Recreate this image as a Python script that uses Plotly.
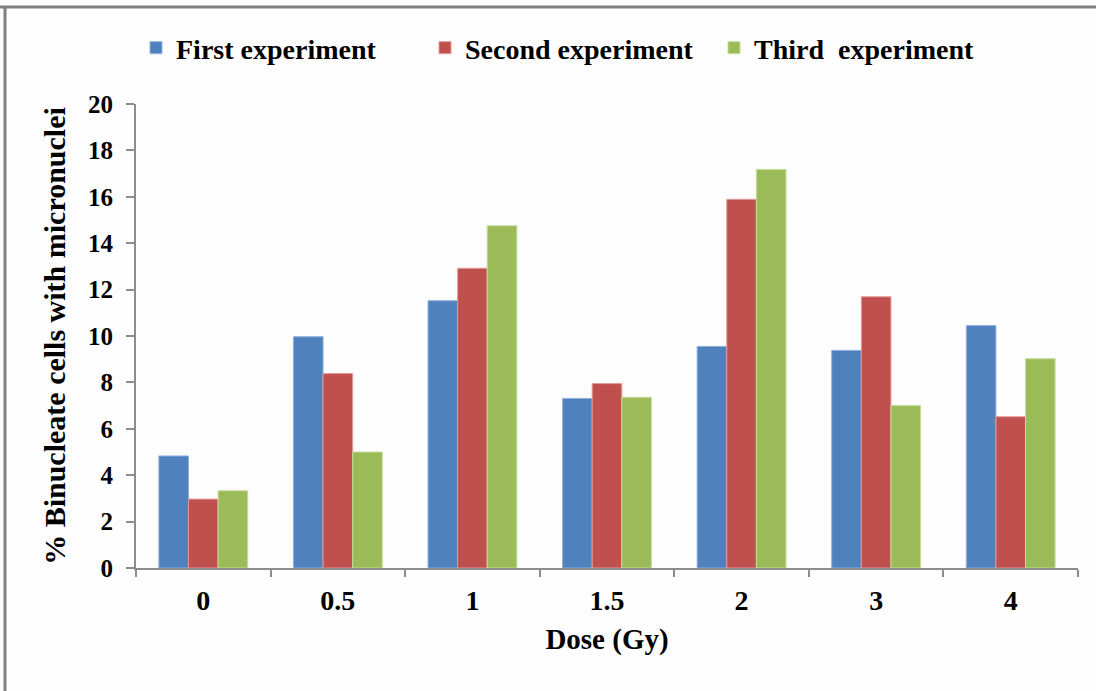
import plotly.graph_objects as go

# Micronucleus assay: % binucleate cells with micronuclei per dose
doses = ["0", "0.5", "1", "1.5", "2", "3", "4"]
first_exp = [4.83, 9.97, 11.52, 7.31, 9.55, 9.38, 10.45]
second_exp = [2.97, 8.38, 12.92, 7.95, 15.89, 11.69, 6.52]
third_exp = [3.33, 5.0, 14.75, 7.36, 17.18, 7.0, 9.02]
y_ticks = list(range(0, 21, 2))

series = [
    ("First experiment", first_exp, "#4F81BD", "#8FB0DA"),
    ("Second experiment", second_exp, "#C0504D", "#E39A98"),
    ("Third\u00a0 experiment", third_exp, "#9BBB59", "#C6DC9A"),
]

W, H = 1096, 691
ML, MR, MT, MB = 136, 18, 104, 123
PW, PH = W - ML - MR, H - MT - MB

def px_x(x):
    return (x - ML) / PW

def px_y(y):
    return (H - MB - y) / PH

fig = go.Figure()
for name, vals, color, edge in series:
    fig.add_trace(go.Bar(
        x=doses, y=vals, name=name,
        marker=dict(color=color, line=dict(color=edge, width=1)),
    ))

serif = "Liberation Serif, Times New Roman, serif"
axis_grey = "#8C8C8C"

fig.update_layout(
    width=W, height=H,
    margin=dict(l=ML, r=MR, t=MT, b=MB),
    paper_bgcolor="#FDFDFD",
    plot_bgcolor="#FDFDFD",
    barmode="group",
    bargap=0.34,
    bargroupgap=0,
    font=dict(family=serif, color="black"),
    showlegend=True,
    legend=dict(
        orientation="h",
        x=px_x(136), xanchor="left",
        y=px_y(48), yanchor="middle",
        font=dict(family=serif, size=28, weight="bold", color="black"),
        itemwidth=30,
        entrywidth=244,
        bgcolor="rgba(0,0,0,0)",
    ),
    xaxis=dict(
        type="category",
        showline=True, linecolor=axis_grey, linewidth=2,
        ticks="outside", tickcolor=axis_grey, ticklen=7, tickwidth=1.5,
        tickson="boundaries",
        ticklabelstandoff=6,
        tickfont=dict(family=serif, size=28, weight="bold", color="black"),
        title=dict(text="Dose (Gy)", standoff=14,
                   font=dict(family=serif, size=29, weight="bold", color="black")),
        showgrid=False,
    ),
    yaxis=dict(
        range=[0, 20],
        tickvals=y_ticks,
        showline=True, linecolor=axis_grey, linewidth=2,
        ticks="outside", tickcolor=axis_grey, ticklen=8, tickwidth=1.5,
        ticklabelstandoff=8,
        tickfont=dict(family=serif, size=25, weight="bold", color="black"),
        title=dict(text="% Binucleate cells with micronuclei", standoff=14,
                   font=dict(family=serif, size=30, weight="bold", color="black")),
        showgrid=False, zeroline=False,
    ),
    shapes=[
        # frame border along the top and left edges
        dict(type="line", xref="paper", yref="paper",
             x0=px_x(0), x1=px_x(W), y0=px_y(7), y1=px_y(7),
             line=dict(color="#7F7F7F", width=3)),
        dict(type="line", xref="paper", yref="paper",
             x0=px_x(5), x1=px_x(5), y0=px_y(7), y1=px_y(H),
             line=dict(color="#7F7F7F", width=3)),
    ],
)

fig.write_html("out.html")
